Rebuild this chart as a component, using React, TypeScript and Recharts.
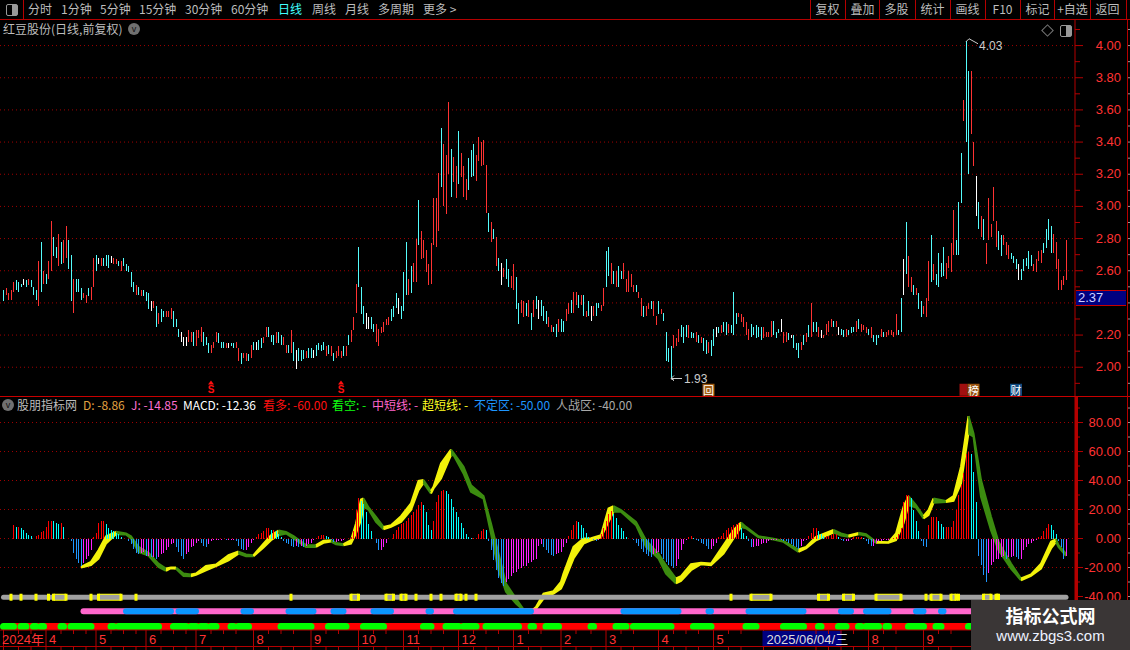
import React from 'react';
import {
  Area,
  Bar,
  CartesianGrid,
  Cell,
  ComposedChart,
  Line,
  ReferenceDot,
  XAxis,
  YAxis,
} from 'recharts';

// daily bars
const priceHigh = [
  2.48, 2.49, 2.46, 2.48, 2.53, 2.54, 2.53, 2.52, 2.55, 2.54,
  2.55, 2.54, 2.50, 2.48, 2.66, 2.78, 2.60, 2.58, 2.66, 2.91,
  2.81, 2.75, 2.83, 2.78, 2.79, 2.88, 2.79, 2.70, 2.55, 2.55,
  2.55, 2.49, 2.46, 2.45, 2.49, 2.50, 2.68, 2.70, 2.68, 2.68,
  2.68, 2.70, 2.70, 2.69, 2.68, 2.67, 2.66, 2.66, 2.68, 2.64,
  2.63, 2.59, 2.53, 2.51, 2.50, 2.48, 2.48, 2.47, 2.46, 2.41,
  2.41, 2.38, 2.34, 2.36, 2.35, 2.35, 2.35, 2.37, 2.35, 2.30,
  2.24, 2.22, 2.19, 2.19, 2.23, 2.22, 2.22, 2.23, 2.23, 2.25,
  2.22, 2.19, 2.15, 2.14, 2.16, 2.22, 2.21, 2.16, 2.16, 2.15,
  2.15, 2.15, 2.15, 2.16, 2.12, 2.09, 2.09, 2.09, 2.08, 2.14,
  2.16, 2.16, 2.17, 2.18, 2.19, 2.25, 2.25, 2.20, 2.20, 2.22,
  2.22, 2.20, 2.19, 2.14, 2.14, 2.23, 2.16, 2.11, 2.12, 2.11,
  2.11, 2.10, 2.12, 2.12, 2.11, 2.14, 2.15, 2.14, 2.16, 2.13,
  2.14, 2.13, 2.09, 2.10, 2.13, 2.10, 2.13, 2.13, 2.20, 2.23,
  2.31, 2.52, 2.75, 2.50, 2.38, 2.34, 2.31, 2.31, 2.27, 2.27,
  2.24, 2.25, 2.28, 2.30, 2.31, 2.36, 2.38, 2.46, 2.43,
  2.38, 2.59, 2.78, 2.55, 2.63, 2.65, 2.80, 3.04, 2.85, 2.79,
  2.73, 2.64, 2.77, 3.05, 3.05, 3.21, 3.49, 3.39, 3.32, 3.65,
  3.36, 3.31, 3.25, 3.47, 3.33, 3.25, 3.17, 3.30, 3.35, 3.39,
  3.32, 3.43, 3.40, 3.41, 3.26, 2.96, 2.90, 2.86, 2.81, 2.68,
  2.65, 2.62, 2.67, 2.61, 2.57, 2.64, 2.56, 2.40,
  2.42, 2.41, 2.40, 2.42, 2.34, 2.42, 2.44, 2.42, 2.42, 2.38,
  2.35, 2.31, 2.26, 2.25, 2.27, 2.30, 2.30, 2.29,
  2.36, 2.40, 2.42, 2.47, 2.47, 2.45, 2.45, 2.45, 2.35, 2.41,
  2.38, 2.38, 2.40, 2.40, 2.39, 2.49, 2.72, 2.75, 2.65, 2.60,
  2.60, 2.63, 2.60, 2.65, 2.55, 2.60, 2.58, 2.51, 2.51, 2.47,
  2.43, 2.38, 2.38, 2.40, 2.41, 2.41, 2.32, 2.41, 2.36, 2.34,
  2.22, 2.12, 2.13, 2.20, 2.18, 2.24, 2.26, 2.25, 2.26, 2.26,
  2.22, 2.21, 2.22, 2.20, 2.19, 2.18, 2.17, 2.16, 2.17, 2.24,
  2.25, 2.25, 2.26, 2.28, 2.28, 2.27, 2.26, 2.47, 2.34, 2.34,
  2.33, 2.31, 2.28, 2.24, 2.27, 2.25, 2.26, 2.25, 2.25, 2.25,
  2.22, 2.22, 2.29, 2.29, 2.22, 2.24, 2.30, 2.22, 2.22, 2.21,
  2.20, 2.20, 2.15, 2.15, 2.16, 2.20, 2.21, 2.26, 2.40, 2.28,
  2.28, 2.25, 2.23, 2.20, 2.27, 2.29, 2.30, 2.29, 2.29, 2.25,
  2.24, 2.23, 2.24, 2.23, 2.25, 2.25, 2.29, 2.30, 2.27, 2.26,
  2.25, 2.24, 2.25, 2.20, 2.20, 2.20, 2.24, 2.22, 2.22, 2.23,
  2.23, 2.22,
  2.33, 2.23, 2.43, 2.67, 2.90, 2.69, 2.56, 2.51, 2.49, 2.46,
  2.41, 2.38, 2.43, 2.66, 2.82, 2.64, 2.58, 2.71, 2.65, 2.75,
  2.65, 2.69, 2.77, 2.98, 2.79, 3.03, 3.33, 3.66, 4.03, 3.84,
  3.84, 3.40, 3.19, 3.03, 2.94, 2.92, 2.77, 3.05, 2.89, 3.12,
  2.91, 2.85, 2.82, 2.82, 2.78, 2.76, 2.71, 2.69, 2.67, 2.64,
  2.61, 2.67, 2.68, 2.72, 2.70, 2.64, 2.67, 2.72, 2.73, 2.77,
  2.86, 2.92, 2.88, 2.83, 2.78, 2.67, 2.54, 2.57, 2.79,
];
const priceLow = [
  2.41, 2.45, 2.42, 2.42, 2.47, 2.48, 2.47, 2.50, 2.51, 2.50,
  2.51, 2.50, 2.45, 2.42, 2.38, 2.47, 2.52, 2.52, 2.55, 2.60,
  2.69, 2.68, 2.63, 2.64, 2.65, 2.68, 2.61, 2.41, 2.34, 2.47,
  2.47, 2.42, 2.43, 2.40, 2.44, 2.42, 2.50, 2.60, 2.64, 2.63,
  2.63, 2.63, 2.62, 2.65, 2.64, 2.64, 2.63, 2.60, 2.63, 2.60,
  2.59, 2.50, 2.47, 2.45, 2.45, 2.44, 2.44, 2.41, 2.36, 2.35,
  2.37, 2.25, 2.27, 2.28, 2.31, 2.31, 2.31, 2.30, 2.25, 2.25,
  2.19, 2.16, 2.13, 2.13, 2.16, 2.16, 2.13, 2.13, 2.18, 2.16,
  2.13, 2.14, 2.09, 2.09, 2.12, 2.16, 2.15, 2.12, 2.12, 2.12,
  2.12, 2.13, 2.12, 2.12, 2.04, 2.02, 2.06, 2.04, 2.04, 2.06,
  2.11, 2.11, 2.11, 2.12, 2.15, 2.19, 2.19, 2.16, 2.14, 2.15,
  2.15, 2.14, 2.14, 2.09, 2.09, 2.09, 2.04, 1.99, 2.04, 2.04,
  2.05, 2.06, 2.06, 2.06, 2.06, 2.07, 2.11, 2.10, 2.11, 2.07,
  2.08, 2.07, 2.04, 2.06, 2.07, 2.06, 2.07, 2.07, 2.14, 2.16,
  2.23, 2.34, 2.50, 2.33, 2.27, 2.24, 2.24, 2.24, 2.22, 2.16,
  2.13, 2.21, 2.22, 2.26, 2.26, 2.29, 2.31, 2.37, 2.33,
  2.30, 2.35, 2.45, 2.45, 2.46, 2.53, 2.53, 2.76, 2.67, 2.68,
  2.59, 2.51, 2.52, 2.76, 2.75, 2.85, 3.12, 3.00, 2.95, 3.20,
  3.06, 3.15, 3.05, 3.14, 3.18, 3.06, 3.04, 3.10, 3.18, 3.19,
  3.16, 3.28, 3.25, 3.26, 2.96, 2.84, 2.78, 2.80, 2.63, 2.60,
  2.51, 2.56, 2.55, 2.50, 2.49, 2.48, 2.36, 2.27,
  2.34, 2.31, 2.32, 2.31, 2.23, 2.31, 2.36, 2.30, 2.32, 2.29,
  2.27, 2.25, 2.22, 2.22, 2.19, 2.22, 2.22, 2.22,
  2.29, 2.33, 2.34, 2.34, 2.39, 2.37, 2.39, 2.32, 2.31, 2.32,
  2.29, 2.32, 2.32, 2.37, 2.35, 2.38, 2.50, 2.57, 2.52, 2.52,
  2.50, 2.50, 2.55, 2.55, 2.47, 2.47, 2.50, 2.47, 2.47, 2.43,
  2.32, 2.31, 2.32, 2.36, 2.36, 2.32, 2.26, 2.33, 2.33, 2.29,
  2.04, 2.03, 1.93, 2.12, 2.13, 2.16, 2.19, 2.15, 2.19, 2.18,
  2.18, 2.18, 2.16, 2.15, 2.15, 2.10, 2.08, 2.09, 2.07, 2.13,
  2.19, 2.21, 2.21, 2.22, 2.20, 2.21, 2.21, 2.20, 2.27, 2.31,
  2.28, 2.25, 2.20, 2.17, 2.19, 2.20, 2.18, 2.19, 2.17, 2.18,
  2.19, 2.19, 2.19, 2.20, 2.18, 2.21, 2.22, 2.15, 2.16, 2.17,
  2.18, 2.12, 2.11, 2.06, 2.11, 2.14, 2.16, 2.19, 2.19, 2.22,
  2.22, 2.19, 2.18, 2.18, 2.20, 2.22, 2.25, 2.25, 2.25, 2.20,
  2.20, 2.19, 2.19, 2.20, 2.21, 2.22, 2.22, 2.24, 2.22, 2.23,
  2.21, 2.20, 2.18, 2.16, 2.14, 2.18, 2.19, 2.19, 2.19, 2.20,
  2.20, 2.19,
  2.20, 2.20, 2.22, 2.45, 2.58, 2.50, 2.47, 2.45, 2.45, 2.36,
  2.31, 2.33, 2.31, 2.41, 2.53, 2.54, 2.51, 2.50, 2.56, 2.57,
  2.55, 2.62, 2.59, 2.70, 2.70, 2.70, 3.02, 3.53, 3.40, 3.20,
  3.45, 3.25, 2.94, 2.86, 2.81, 2.79, 2.64, 2.79, 2.81, 2.91,
  2.75, 2.73, 2.69, 2.76, 2.70, 2.67, 2.67, 2.65, 2.61, 2.54,
  2.54, 2.60, 2.63, 2.61, 2.63, 2.60, 2.59, 2.66, 2.65, 2.71,
  2.74, 2.79, 2.71, 2.71, 2.61, 2.48, 2.48, 2.51, 2.54,
];
const priceTone = (
  'c r r r r c c c w c r c c c r c r c r r c c r c r r c c r c ' +
  'c c r r c r r c w r c c c w r r c r c c c c c r c r c c c w ' +
  'r c r c c r r r c c c w w w r r c r r r c c c r r r c c c r ' +
  'w c c r r c r r c r c w c c r r c c c r c c r r c r c w c c ' +
  'c r c c w c c c c r c r c r r r c r c r r r c c c w w c c r ' +
  'r r r r r c c c w c c c r c r r c r r r r r r r r c r ' +
  'r r c r r c r r r c c c r r r r r c r c r c w r c c r r c c ' +
  'r r c r c r c w c c c r r c c r c c ' +
  'r r c r r c r c r c w r c c r r c c r c r c c r r r r r c r ' +
  'r c r r c r r c r c c c c r r r c c c r c c r c r c c r c c ' +
  'w c r c c r c c c r r r r r c c c c c r r r r c c c w r r c ' +
  'w c c c r c r c r c c r w r r r r c r w c c r c c c r c r r ' +
  'r c r c c c r c r r r r r c c w c r r c r c c r r r c r c c ' +
  'c c r r r r c c c r c c r r w c r c r r r r r c c r r r c ' +
  'c c w c c c c c r r r r c c c c r r r r r r c c c r r ' +
  'r c r c c c r c r c c c c r c r r c w c ' +
  'w r r r r c r c c c c c c r r c c c r r c c r r c r c r r c ' +
  'r c c c c r r r r c c c c r r'
).trim().split(/\s+/);

// MACD-style bars of the lower panel
const histValues = [
  0, 0, 0, 0, 9.2, 8, 8, 7, 6, 4,
  2.5, 1.5, -0.5, 1.5, 2.5, 4.6, 5, 8, 12, 12.2,
  12, 11, 10, 10.5, 8, 0, 0, -2, -10, -14,
  -17, -19, -17, -14, -12, -8, 1, 4, 11, 12,
  12, 10, 7, 6, 5, 4, 3, 1, 0, 0,
  -2, -4, -7, -10, -11, -10, -9, -12, -12, -13,
  -13, -14, -13, -11, -10, -8, -6, -4, -3, -6,
  -9, -12, -14, -11, -9, -6, -5, -3, -2, -3,
  -5, -6, -4, -2, -1, -1, -1, -1, -0.5, -1,
  -1, -1, -1, -2, -5, -7, -8, -8, -6, -3,
  -1, 1, 3, 4, 5, 7, 7.5, 6, 6, 5,
  3, 1, -2, -3, -4, -5, -6, -5, -6, -5,
  -6, -5, -4, -3, -1, 0.5, 1.5, 2.5, 2.5, 2,
  1, -1, -2.5, -2.5, -2, -1.5, -1, -0.5, 0, 1,
  5, 20, 28, 26, 24, 18, 10, 5, 0, -3,
  -8, -8, -6, -3, 0, 0, 3, 6, 8, 10,
  11, 12, 14, 16, 18, 20, 23, 25, 23, 18,
  9, 6, 12, 25, 30, 33, 33.5, 33, 31, 27,
  22, 18, 15, 11, 7, 3, 1, 0.5, 0.5, 0.5,
  3, 5, 6.5, 6, -2, -8, -15, -22, -27, -31,
  -33, -30, -28, -26, -24, -23, -21, -20, -19, -19,
  -17, -16, -15, -14, -5, -4, -6, -8, -10, -11.5,
  -12, -11, -10, -9, -6, -3, 1.6, 6, 9, 12,
  11.5, 9, 7, 3.5, 1, -0.5, -1, -1.5, -1, 3,
  7, 12, 17, 19, 17, 14, 9, 7, 5, 1,
  -0.5, -0.5, -1, -3, -5, -7, -9, -11, -12, -13,
  -11, -10, -9, -11, -14, -16, -18, -19, -20, -19,
  -14, -8, -4, -1, 1, 2, 0.5, -1, -2, -3,
  -4, -5, -7, -7, -5, -3, 1, 2, 4, 6,
  7, 8, 9, 10, 11, 7, 4, 2, -2, -6,
  -6, -5, -5, -4, -3, -3, -2, -1, -1, -1,
  -0.5, -1, -1.5, -2, -3, -4, -5, -6, -7, -5,
  -2, -1, 2, 4, 7, 7, 5, 3, 2, 2,
  2, 2.5, 3, 3, 1, -1, -2, -2, -2, -1,
  1, 1, 1, 1, 0.5, -2, -4, -5, -5, -3,
  -2, -2, -1, -1, -1, -0.5, 0.5, 1, 3, 7,
  25, 30, 30, 28, 20, 12, 5, -2, -5, -6,
  9, 15, 15, 15, 12, 10, 8, 8, 8, 8,
  12, 20, 30, 37, 45, 58, 60, 58, 46, 25,
  -12, -18, -25, -30, -24, -18, -16, -14, -14, -13,
  -12, -14, -13, -13, -12, -13, -14, -14, -8, -6,
  -4, -3, -2, -1, 1, 2, 5, 7, 10, 9,
  6, 3, -2, -6, -14, -12,
];

// ribbon outline: bar number, top edge, bottom edge, y = rising (yellow), g = falling (green)
const ribbonBars = [
  31, 35, 38, 41, 45, 49, 51, 54, 58, 62, 65, 67, 69, 72, 75, 77, 81, 85, 90, 94,
  97, 100, 104, 107, 110, 113, 116, 121, 125, 128, 131, 133, 136, 139, 141, 143, 144, 146, 149, 152,
  155, 159, 163, 166, 168, 171, 172, 175, 179, 180, 184, 187, 192, 195, 198, 201, 205, 208, 212, 213,
  216, 220, 223, 224, 228, 232, 235, 239, 242, 244, 247, 253, 257, 262, 265, 269, 271, 275, 279, 283,
  288, 292, 295, 297, 302, 308, 312, 318, 321, 325, 332, 335, 338, 342, 345, 349, 354, 357, 360, 362,
  365, 368, 370, 372, 377, 380, 383, 386, 388, 391, 395, 398, 403, 407, 411, 415, 419, 421, 422, 425,
];
const ribbonTop = [
  -19.6, -16.1, -8.1, 1.6, 4.6, 3.5, 1.6, -5.8, -9.9, -17.3, -20.7, -20, -20, -24.2, -24.8, -24.2, -18.9, -17.9, -11.5, -9,
  -11, -11.5, -3.5, 2.3, 5.5, 4.6, 1.6, -4.6, -4.6, -1.6, -1.2, -3, -3.9, -1.2, 10.4, 26.9, 27.6, 21.4, 15, 8,
  9.2, 15.4, 24.2, 39.8, 40.3, 32.7, 35.7, 51.8, 61.4, 59.1, 49.5, 36.8, 29.2, 10.4, -10.4, -31, -41.4, -48.8, -48.8, -47.2,
  -38, -36.3, -29.9, -24.2, -5.8, 0, 0.2, 2.3, 20.7, 22.3, 19.6, 11.5, -1.2, -10.4, -18.4, -27.6, -26, -17.7, -16.8, -17.3,
  -4.6, 5.8, 11, 8, 1.6, -0.2, -1.6, -7.6, -5.8, 1.2, 6, 3.5, 2.1, 3.9, 3, -2.3, -2.5, 3.5, 21.9, 29.2,
  23, 15.4, 19.6, 27.6, 25.8, 29.2, 49.5, 84.4, 72.5, 40.3, 15, -2.3, -17.3, -27.6, -24.8, -17.3, -2.3, -0.5, -4.6, -10.4,
];
const ribbonBottom = [
  -20, -18.4, -13.8, -3.5, 3, 2.8, 0, -9.2, -11.7, -19.6, -22.3, -20.5, -20.9, -25.8, -26, -25.1, -21.9, -19.1, -15, -10.4,
  -12.2, -12.2, -6.2, -1.2, 2.3, 3.5, 0, -5.8, -5.8, -3, -2.1, -3.9, -4.6, -3.5, 3.5, 12.7, 21.9, 20, 11.5, 6.4,
  8, 11.5, 19.6, 33.4, 38.4, 31, 34.5, 41.4, 57.5, 57.5, 44.9, 32.2, 27.6, 3.5, -21.9, -36.8, -44.9, -49.5, -49.5, -48.5,
  -41.4, -38, -34.5, -31, -13.8, -3.5, -1.2, 0.7, 11.5, 18.4, 18.4, 9.2, -5.8, -13.8, -24.2, -31, -29.2, -21.9, -17.7, -18.4,
  -10.4, 0, 8, 7.1, 0.9, -0.7, -2.3, -9.2, -6.9, -1.2, 4.1, 2.1, 1.2, 3, 2.1, -3, -3, -1.2, 10.4, 23,
  21.4, 13.8, 16.1, 24.6, 25.1, 26, 38, 72.5, 70.2, 28.8, 5.8, -8, -20.7, -28.8, -25.8, -20.7, -6.9, -2.3, -5.8, -12,
];
const ribbonTone = (
  'y y y y y g g g g g g y y g g y y y y y ' +
  'g g y y y g g g g y y g g y y y y g g g ' +
  'y y y y y g y y y g g g g g g g g g g y ' +
  'y y y y y y y y y y g g g g g g y y y y ' +
  'y y y g g g g g y y y g g y g g y y y y ' +
  'g g y y g y y y g g g g g g y y y y g g'
).trim().split(/\s+/);

// bar ranges of the three strips under the histogram
const shortRuns = [
  [3, 3], [7, 7], [13, 13], [18, 18], [20, 25], [35, 35], [38, 47], [53, 53], [115, 115],
  [139, 142], [153, 156], [159, 161], [165, 165], [171, 171], [175, 175], [181, 183], [185, 185], [189, 189],
  [291, 291], [299, 307], [326, 330], [336, 340], [349, 359], [369, 369], [371, 375], [379, 381], [382, 382],
  [392, 395], [397, 398],
];
const midRun = [32, 425];
const blueRuns = [
  [49, 67], [70, 77], [96, 99], [114, 124], [132, 136], [148, 155], [170, 171], [181, 211],
  [248, 270], [282, 283], [298, 320], [335, 339], [345, 354], [365, 368], [375, 376],
];
const greenRuns = [
  [0, 4], [7, 9], [12, 13], [15, 16], [23, 24], [27, 30], [31, 35], [43, 44], [46, 62], [68, 73],
  [75, 77], [79, 81], [83, 85], [91, 92], [94, 98], [111, 123], [130, 137], [144, 152], [168, 171], [177, 182],
  [184, 189], [193, 206], [211, 212], [217, 222], [235, 236], [245, 249], [252, 267], [276, 283], [297, 301],
  [312, 320], [326, 327], [334, 337], [342, 343], [345, 350], [353, 354], [362, 368], [373, 375], [386, 425],
];
const idleLevel = -40.5;
const midLevel = -50.2;
const bullLevel = -60.7;

const priceMajor = [2.0, 2.2, 2.4, 2.6, 2.8, 3.0, 3.2, 3.4, 3.6, 3.8, 4.0];
const priceMinor = [1.9, 2.1, 2.3, 2.5, 2.7, 2.9, 3.1, 3.3, 3.5, 3.7, 3.9, 4.1];
const priceLabels = [2.0, 2.2, 2.6, 2.8, 3.0, 3.2, 3.4, 3.6, 3.8, 4.0]; // 2.40 sits behind the last price box
const macdMajor = [-40, -20, 0, 20, 40, 60, 80];
const macdGrid = [-20, 0, 20, 40, 60, 80];
const macdMinor = [-30, -10, 10, 30, 50, 70, 90];

const dateTicks = [0, 17, 37, 57, 77, 100, 123, 142, 160, 182, 204, 223, 241, 262, 284, 304, 346, 368, 389];
const dateLabels = ['2024年', '4', '5', '6', '7', '8', '9', '10', '11', '12', '1', '2', '3', '4', '5', '2025/06/04/三', '8', '9', '10'];
const weekTicks = [6, 11, 23, 28, 33, 43, 48, 53, 63, 68, 73, 83, 88, 93, 106, 111, 116, 129, 134, 148, 153, 166, 171, 176, 188, 193, 198, 210, 215, 229, 235, 247, 252, 268, 273, 278, 290, 295, 325, 330, 335, 340, 352, 357, 374, 379];

const topLeftTabs = [
  ['分时', 28], ['1分钟', 61], ['5分钟', 100], ['15分钟', 139], ['30分钟', 185], ['60分钟', 231],
  ['日线', 278], ['周线', 312], ['月线', 345], ['多周期', 378], ['更多 >', 423],
];
const topRightTabs = [
  ['复权', 810], ['叠加', 845], ['多股', 879], ['统计', 915], ['画线', 950], ['F10', 985],
  ['标记', 1020], ['+自选', 1055], ['返回', 1090],
];
const legendItems = [
  ['D: -8.86', 83, '#e0a040'], ['J: -14.85', 131, '#ff70d0'], ['MACD: -12.36', 183, '#ffffff'],
  ['看多: -60.00', 263, '#ff1010'], ['看空: -', 332, '#10ff10'], ['中短线: -', 372, '#ff66cc'],
  ['超短线: -', 422, '#ffff20'], ['不定区: -50.00', 474, '#1e96ff'], ['人战区: -40.00', 556, '#a8a8a8'],
];

const toneColor: Record<string, string> = { r: '#ff3232', c: '#54fcfc', w: '#ffffff' };
const LINE_RED = '#b40000';
const CJK = '"Liberation Sans", "Noto Sans CJK SC", sans-serif';

const inRuns = (runs: number[][], i: number) => runs.some(([a, b]) => i >= a && i <= b);

// cut the ribbon where its colour changes, each part starts on the last point of the one before
const ribbonParts: { tone: string; from: number; to: number }[] = [];
ribbonTone.forEach((tone, k) => {
  const last = ribbonParts[ribbonParts.length - 1];
  if (last && last.tone === tone) last.to = k;
  else ribbonParts.push({ tone, from: Math.max(k - 1, 0), to: k });
});

const table = priceHigh.map((high, i) => {
  const row: Record<string, any> = {
    i,
    candle: [priceLow[i], high],
    hist: histValues[i],
    idle: idleLevel,
    markBack: shortRuns.some(([a, b]) => a !== b && i >= a && i <= b) ? idleLevel : null,
    markFront: shortRuns.some(([a, b]) => i === a || i === b) ? idleLevel : null,
    mid: i >= midRun[0] && i <= midRun[1] ? midLevel : null,
    blue: inRuns(blueRuns, i) ? midLevel : null,
    bull: bullLevel,
    green: inRuns(greenRuns, i) ? bullLevel : null,
  };
  return row;
});
ribbonParts.forEach((part, p) => {
  for (let k = part.from; k <= part.to; k++) {
    const row = table[ribbonBars[k]];
    if (row) row[`rib${p}`] = [ribbonBottom[k], ribbonTop[k]];
  }
});

const histColor = (i: number) => {
  const v = histValues[i];
  const prev = i > 0 ? histValues[i - 1] : 0;
  if (v >= 0) return v >= prev ? '#ff0000' : '#00ffff';
  return v < prev ? '#1e96ff' : '#ff20ff';
};

function RightTick({ y, payload, major, labels, digits }: any) {
  const isMajor = major.includes(payload.value);
  return (
    <g>
      <line x1={1075} x2={isMajor ? 1083 : 1080} y1={y} y2={y} stroke={LINE_RED} />
      <line x1={1127} x2={1130} y1={y} y2={y} stroke="#999" />
      {labels.includes(payload.value) && (
        <text x={1121} y={y + 4} textAnchor="end" fill="#ff3232" fontSize={13} fontFamily={CJK}>
          {payload.value.toFixed(digits)}
        </text>
      )}
    </g>
  );
}

function DateTick({ x, payload }: any) {
  const at = dateTicks.indexOf(payload.value);
  const label = at >= 0 ? dateLabels[at] : null;
  const isCursor = label != null && label.length > 8;
  return (
    <g>
      <line x1={x} x2={x} y1={233} y2={at >= 0 ? 249 : 237} stroke={LINE_RED} />
      <line x1={x} x2={x} y1={249} y2={253} stroke={LINE_RED} />
      {isCursor && <rect x={x - 1} y={234} width={79} height={16} fill="#000080" />}
      {label && at > 0 && (
        <text x={x + 3} y={247} fill={isCursor ? '#ddd' : '#ff3232'} fontSize={13} fontFamily={CJK}>
          {label}
        </text>
      )}
      {at === 0 && (
        <text x={2} y={247} fill="#ff3232" fontSize={13} fontFamily={CJK}>
          {label}
        </text>
      )}
    </g>
  );
}

function MarkDot({ cx, cy, payload }: any) {
  if (payload.markFront == null) return <g key={payload.i} />;
  return <rect key={payload.i} x={cx - 1.5} y={cy - 3.5} width={3} height={7} fill="#ffff00" />;
}

function PeakFlag({ cx, cy }: any) {
  return (
    <g>
      <polyline points={`${cx},${cy + 1} ${cx + 3},${cy - 2} ${cx + 12},${cy + 3}`} fill="none" stroke="#ccc" />
      <text x={cx + 13} y={cy + 9} fill="#ccc" fontSize={12} fontFamily={CJK}>4.03</text>
    </g>
  );
}

function LowFlag({ cx, cy }: any) {
  return (
    <g>
      <polyline points={`${cx + 3},${cy - 3} ${cx},${cy} ${cx + 3},${cy + 2} ${cx},${cy} ${cx + 11},${cy}`} fill="none" stroke="#ccc" />
      <text x={cx + 13} y={cy + 4} fill="#ccc" fontSize={12} fontFamily={CJK}>1.93</text>
    </g>
  );
}

function SignalMark({ cx, cy }: any) {
  return (
    <g>
      <polygon points={`${cx},${cy - 6} ${cx - 3},${cy - 2} ${cx + 3},${cy - 2}`} fill="#ff1010" />
      <text x={cx} y={cy + 6} textAnchor="middle" fill="#ff1010" fontSize={10} fontWeight="bold" fontFamily="Liberation Sans">S</text>
    </g>
  );
}

function Badge({ cx, cy, glyph, tint, wide = 12 }: any) {
  return (
    <g>
      <rect x={cx - wide / 2} y={cy - 6} width={wide} height={12} fill={tint} />
      {glyph && (
        <text x={cx} y={cy + 5} textAnchor="middle" fill="#fff" fontSize={11} fontFamily="Noto Sans CJK SC">{glyph}</text>
      )}
    </g>
  );
}

const Txt = ({ left, top, color = '#bdbdbd', size = 12, weight, children }: any) => (
  <div
    style={{
      position: 'absolute',
      left,
      top,
      color,
      fontSize: size,
      fontWeight: weight,
      lineHeight: '16px',
      whiteSpace: 'nowrap',
      fontFamily: '"Noto Sans CJK SC", sans-serif',
    }}
  >
    {children}
  </div>
);

const Rule = ({ left, top, width, height, color = LINE_RED }: any) => (
  <div style={{ position: 'absolute', left, top, width, height, background: color }} />
);

export default function App() {
  return (
    <div style={{ position: 'fixed', left: 0, top: 0, width: 1130, height: 650, background: '#000', overflow: 'hidden' }}>
      <div style={{ position: 'absolute', left: 0, top: 20 }}>
        <ComposedChart width={1130} height={377} data={table} margin={{ top: 0, right: 0, bottom: 0, left: 0 }}>
          <CartesianGrid horizontalValues={priceMajor} vertical={false} stroke="#a00000" strokeDasharray="1 3" />
          <XAxis dataKey="i" hide padding={{ left: 2.25, right: 7.75 }} />
          <YAxis
            orientation="right"
            width={55}
            domain={[1.815, 4.159]}
            allowDataOverflow
            ticks={[...priceMajor, ...priceMinor]}
            interval={0}
            tickLine={false}
            axisLine={{ stroke: LINE_RED }}
            tick={<RightTick major={priceMajor} labels={priceLabels} digits={2} />}
          />
          <Bar dataKey="candle" barSize={1} isAnimationActive={false} shapeRendering="crispEdges">
            {table.map((row) => (
              <Cell key={row.i} fill={toneColor[priceTone[row.i]] ?? '#ff3232'} />
            ))}
          </Bar>
          <ReferenceDot x={385} y={4.03} shape={<PeakFlag />} />
          <ReferenceDot x={267} y={1.93} shape={<LowFlag />} />
          <ReferenceDot x={83} y={1.88} shape={<SignalMark />} />
          <ReferenceDot x={135} y={1.88} shape={<SignalMark />} />
          <ReferenceDot x={282} y={1.86} shape={<Badge glyph="回" tint="#a05a10" />} />
          <ReferenceDot x={384} y={1.86} shape={<Badge tint="#a01010" wide={8} />} />
          <ReferenceDot x={388} y={1.86} shape={<Badge glyph="榜" tint="#9a5410" />} />
          <ReferenceDot x={405} y={1.86} shape={<Badge glyph="财" tint="#104a80" />} />
        </ComposedChart>
      </div>

      <div style={{ position: 'absolute', left: 0, top: 397 }}>
        <ComposedChart width={1130} height={253} data={table} margin={{ top: 0, right: 0, bottom: 0, left: 0 }}>
          <CartesianGrid horizontalValues={macdGrid} vertical={false} stroke="#a00000" strokeDasharray="1 3" />
          <XAxis
            dataKey="i"
            height={20}
            padding={{ left: 2.25, right: 7.75 }}
            ticks={[...dateTicks, ...weekTicks]}
            interval={0}
            tickLine={false}
            axisLine={{ stroke: LINE_RED }}
            tick={<DateTick />}
          />
          <YAxis
            orientation="right"
            width={55}
            domain={[-63.1, 97.6]}
            allowDataOverflow
            ticks={[...macdMajor, ...macdMinor]}
            interval={0}
            tickLine={false}
            axisLine={{ stroke: LINE_RED }}
            tick={<RightTick major={macdMajor} labels={macdMajor} digits={2} />}
          />
          <Bar dataKey="hist" barSize={1} isAnimationActive={false} shapeRendering="crispEdges">
            {table.map((row) => (
              <Cell key={row.i} fill={histColor(row.i)} />
            ))}
          </Bar>
          {ribbonParts.map((part, p) => (
            <Area
              key={p}
              dataKey={`rib${p}`}
              connectNulls
              stroke={part.tone === 'y' ? '#f2f20a' : '#3c8c10'}
              strokeWidth={2}
              fill={part.tone === 'y' ? '#f2f20a' : '#3c8c10'}
              fillOpacity={1}
              dot={false}
              activeDot={false}
              isAnimationActive={false}
            />
          ))}
          <Line dataKey="markBack" stroke="#ffff00" strokeWidth={7} dot={false} activeDot={false} isAnimationActive={false} />
          <Line dataKey="idle" stroke="#a0a0a0" strokeWidth={5} strokeLinecap="round" dot={false} activeDot={false} isAnimationActive={false} />
          <Line dataKey="markFront" stroke="none" dot={<MarkDot />} activeDot={false} isAnimationActive={false} />
          <Line dataKey="mid" stroke="#ff66cc" strokeWidth={6} strokeLinecap="round" dot={false} activeDot={false} isAnimationActive={false} />
          <Line dataKey="blue" stroke="#0a96ff" strokeWidth={6} strokeLinecap="round" dot={false} activeDot={false} isAnimationActive={false} />
          <Line dataKey="bull" stroke="#ff0000" strokeWidth={7} dot={false} activeDot={false} isAnimationActive={false} />
          <Line dataKey="green" stroke="#00ff00" strokeWidth={7} strokeLinecap="round" dot={false} activeDot={false} isAnimationActive={false} />
        </ComposedChart>
      </div>

      {/* frame */}
      <Rule left={0} top={19} width={1130} height={1} />
      <Rule left={0} top={396} width={1130} height={1} color="#c80000" />
      <Rule left={1127} top={20} width={1} height={630} />
      <Rule left={0} top={646} width={971} height={1} />
      <Rule left={1075} top={397} width={3} height={253} />
      <Rule left={23} top={0} width={1} height={20} />
      {[810, 845, 879, 915, 950, 985, 1020, 1054, 1090, 1126].map((x) => (
        <Rule key={x} left={x} top={0} width={1} height={20} />
      ))}

      {/* toolbar */}
      <div style={{ position: 'absolute', left: 6, top: 4, width: 10, height: 10, border: '1px solid #999', borderRadius: 2, background: 'linear-gradient(90deg,#000 50%,#999 50%)' }} />
      {topLeftTabs.map(([label, x]) => (
        <Txt key={label as string} left={x} top={1} color={label === '日线' ? '#40ffff' : '#bdbdbd'}>{label}</Txt>
      ))}
      {topRightTabs.map(([label, x]) => (
        <div key={label as string} style={{ position: 'absolute', left: x as number, top: 1, width: 35, textAlign: 'center', color: '#bdbdbd', fontSize: 12, lineHeight: '16px', fontFamily: '"Noto Sans CJK SC", sans-serif' }}>
          {label}
        </div>
      ))}

      {/* titles */}
      <Txt left={3} top={21}>红豆股份(日线,前复权)</Txt>
      <div style={{ position: 'absolute', left: 128, top: 23, width: 12, height: 12, borderRadius: 6, background: '#707070', color: '#111', fontSize: 9, lineHeight: '12px', textAlign: 'center', fontFamily: 'Liberation Sans' }}>v</div>
      <div style={{ position: 'absolute', left: 1043, top: 26, width: 7, height: 7, border: '1px solid #777', transform: 'rotate(45deg)' }} />
      <div style={{ position: 'absolute', left: 1060, top: 25, width: 10, height: 10, border: '1px solid #999', borderRadius: 2, background: 'linear-gradient(90deg,#000 50%,#999 50%)' }} />
      <div style={{ position: 'absolute', left: 2, top: 399, width: 12, height: 12, borderRadius: 6, background: '#707070', color: '#111', fontSize: 9, lineHeight: '12px', textAlign: 'center', fontFamily: 'Liberation Sans' }}>v</div>
      <Txt left={17} top={397}>股朋指标网</Txt>
      {legendItems.map(([label, x, color]) => (
        <Txt key={label as string} left={x} top={397} color={color}>{label}</Txt>
      ))}

      {/* last price box */}
      <div style={{ position: 'absolute', left: 1076, top: 290, width: 50, height: 16, background: '#000080', borderTop: '1px solid #c80000', borderBottom: '1px solid #c80000', color: '#cfcfff', fontSize: 13, lineHeight: '14px', paddingLeft: 2, boxSizing: 'border-box', fontFamily: 'Liberation Sans' }}>
        2.37
      </div>

      {/* watermark */}
      <div style={{ position: 'absolute', left: 971, top: 600, width: 159, height: 50, background: '#3a3636', textAlign: 'center', color: '#fff', fontFamily: '"Noto Sans CJK SC", sans-serif' }}>
        <div style={{ fontSize: 18, fontWeight: 700, lineHeight: '24px', marginTop: 3 }}>指标公式网</div>
        <div style={{ fontSize: 15, lineHeight: '18px', color: '#eef2ff', fontFamily: '"Liberation Sans", sans-serif' }}>www.zbgs3.com</div>
      </div>
    </div>
  );
}
